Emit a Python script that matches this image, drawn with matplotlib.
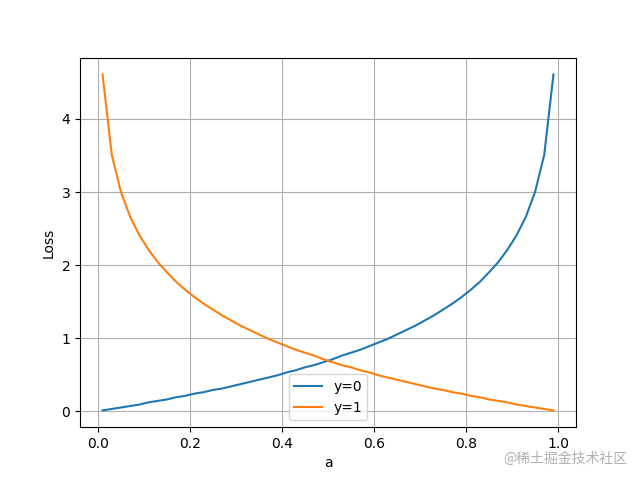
import matplotlib
matplotlib.use("Agg")
import matplotlib.pyplot as plt

a = [0.01,0.03,0.05,0.07,0.09,0.11,0.13,0.15,0.17,0.19,0.21,0.23,0.25,0.27,0.29,0.31,0.33,0.35,0.37,0.39,
     0.41,0.43,0.45,0.47,0.49,0.51,0.53,0.55,0.57,0.59,0.61,0.63,0.65,0.67,0.69,0.71,0.73,0.75,0.77,0.79,
     0.81,0.83,0.85,0.87,0.89,0.91,0.93,0.95,0.97,0.99]
loss_y1 = [4.61,3.51,3.00,2.66,2.41,2.21,2.04,1.90,1.77,1.66,1.56,1.47,1.39,1.31,1.24,1.17,1.11,1.05,0.99,0.94,
           0.89,0.84,0.80,0.76,0.71,0.67,0.63,0.60,0.56,0.53,0.49,0.46,0.43,0.40,0.37,0.34,0.31,0.29,0.26,0.24,
           0.21,0.19,0.16,0.14,0.12,0.09,0.07,0.05,0.03,0.01]
loss_y0 = loss_y1[::-1]

fig, ax = plt.subplots(figsize=(6.4, 4.8), dpi=100)
ax.plot(a, loss_y0, label="y=0")
ax.plot(a, loss_y1, label="y=1")
ax.set_xlabel("a")
ax.set_ylabel("Loss")
ax.grid(True)
ax.legend(loc="lower center")
fig.text(0.98, 0.03, "@稀土掘金技术社区", ha="right", va="bottom", color="#b0b0b0",
         fontsize=10, family=["Noto Sans CJK SC", "DejaVu Sans"])
fig.savefig("out.png")
